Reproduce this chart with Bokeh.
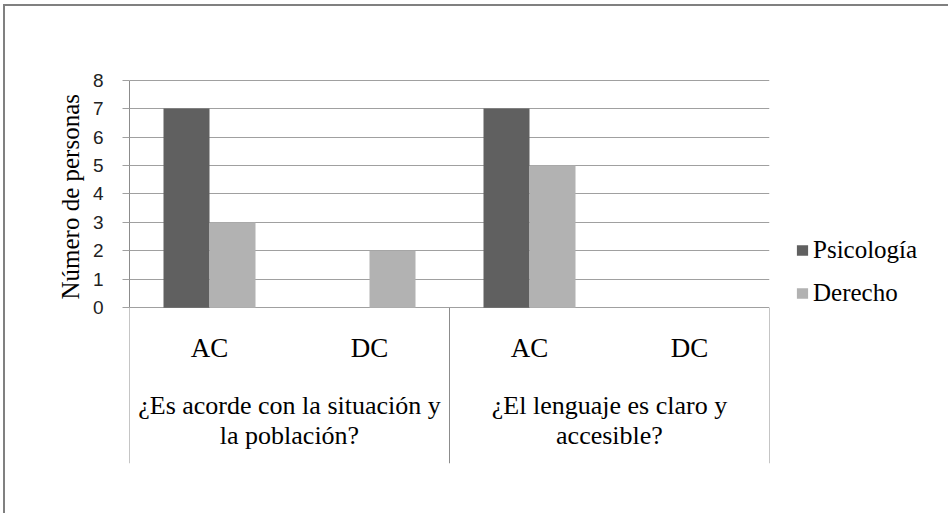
from bokeh.plotting import figure
from bokeh.models import ColumnDataSource, FixedTicker, Legend, LegendItem, Range1d, Title
from bokeh.transform import dodge
from bokeh.core.properties import value
from bokeh.embed import file_html
from bokeh.resources import INLINE

# ---- data ----
categories = ["AC", "DC", "AC", "DC"]
groups = ["¿Es acorde con la situación y\nla población?", "¿El lenguaje es claro y\naccesible?"]
psicologia = [7, 0, 7, 0]
derecho = [3, 2, 5, 0]
y_ticks = [0, 1, 2, 3, 4, 5, 6, 7, 8]
y_title = "Número de personas"

series_names = ["Psicología", "Derecho"]
series_colors = ["#606060", "#b2b2b2"]

# positions derived from categories
xpos = [i + 0.5 for i in range(len(categories))]
per_group = len(categories) // len(groups)
group_x = [g * per_group + per_group / 2 for g in range(len(groups))]
divider_x = [g * per_group for g in range(len(groups) + 1)]

Y_BOTTOM = -5.47
src = ColumnDataSource(dict(x=xpos, cat=categories, psi=psicologia, der=derecho))

p = figure(frame_width=640, frame_height=384, output_backend="svg", toolbar_location=None,
           x_range=Range1d(0, len(categories)), y_range=Range1d(Y_BOTTOM, 8.02),
           min_border_left=124, min_border_top=73, min_border_right=150, min_border_bottom=50)
p.styles = {"border-left": "2px solid #808080", "border-top": "2px solid #808080",
            "margin-left": "3px", "margin-top": "4px"}

p.outline_line_color = None
p.background_fill_color = "white"
p.border_fill_color = "white"
p.xaxis.visible = False
p.xgrid.visible = False
p.ygrid.ticker = FixedTicker(ticks=y_ticks)
p.ygrid.grid_line_color = "#a0a0a0"
p.ygrid.grid_line_width = 1

ax = p.yaxis[0]
ax.ticker = FixedTicker(ticks=y_ticks)
ax.bounds = (y_ticks[0], y_ticks[-1])
ax.axis_line_color = "#8c8c8c"
ax.major_tick_line_color = "#a0a0a0"
ax.major_tick_out = 7
ax.major_tick_in = 0
ax.minor_tick_line_color = None
ax.major_label_text_font = "Liberation Sans"
ax.major_label_text_font_size = "19px"
ax.major_label_text_color = "#222222"
ax.major_label_standoff = 19

# y-axis title, placed beside the 0..8 value span
p.add_layout(Title(text=y_title, align="left", offset=164, text_font="Liberation Serif",
                   text_font_size="25px", text_font_style="normal", text_color="#000000",
                   standoff=12), "left")

bw = 0.2875
r1 = p.vbar(x=dodge("x", -bw / 2, range=p.x_range), top="psi", width=bw, source=src,
            fill_color=series_colors[0], line_color=None)
r2 = p.vbar(x=dodge("x", bw / 2, range=p.x_range), top="der", width=bw, source=src,
            fill_color=series_colors[1], line_color=None)

# group dividers below the axis
p.segment(x0=divider_x, x1=divider_x, y0=[0] * len(divider_x), y1=[Y_BOTTOM] * len(divider_x),
          line_color="#8c8c8c", line_width=1)

# category labels
p.text(x=xpos, y=[-1.4] * len(xpos), text=categories, text_align="center", text_baseline="middle",
       text_font=value("Liberation Serif"), text_font_size="27px", text_color="#000000")
# group labels
p.text(x=group_x, y=[-3.96] * len(group_x), text=groups, text_align="center", text_baseline="middle",
       text_font=value("Liberation Serif"), text_font_size="26px", text_color="#000000",
       text_line_height=1.05)

legend = Legend(items=[LegendItem(label=series_names[0], renderers=[r1]),
                       LegendItem(label=series_names[1], renderers=[r2])],
                location="center_left", margin=26, padding=0, spacing=15,
                glyph_width=14, glyph_height=13, label_standoff=4, label_height=28,
                label_text_font="Liberation Serif", label_text_font_size="25px",
                label_text_color="#000000", border_line_color=None, background_fill_alpha=0)
p.add_layout(legend, "right")

open("out.html", "w").write(file_html(p, INLINE))
